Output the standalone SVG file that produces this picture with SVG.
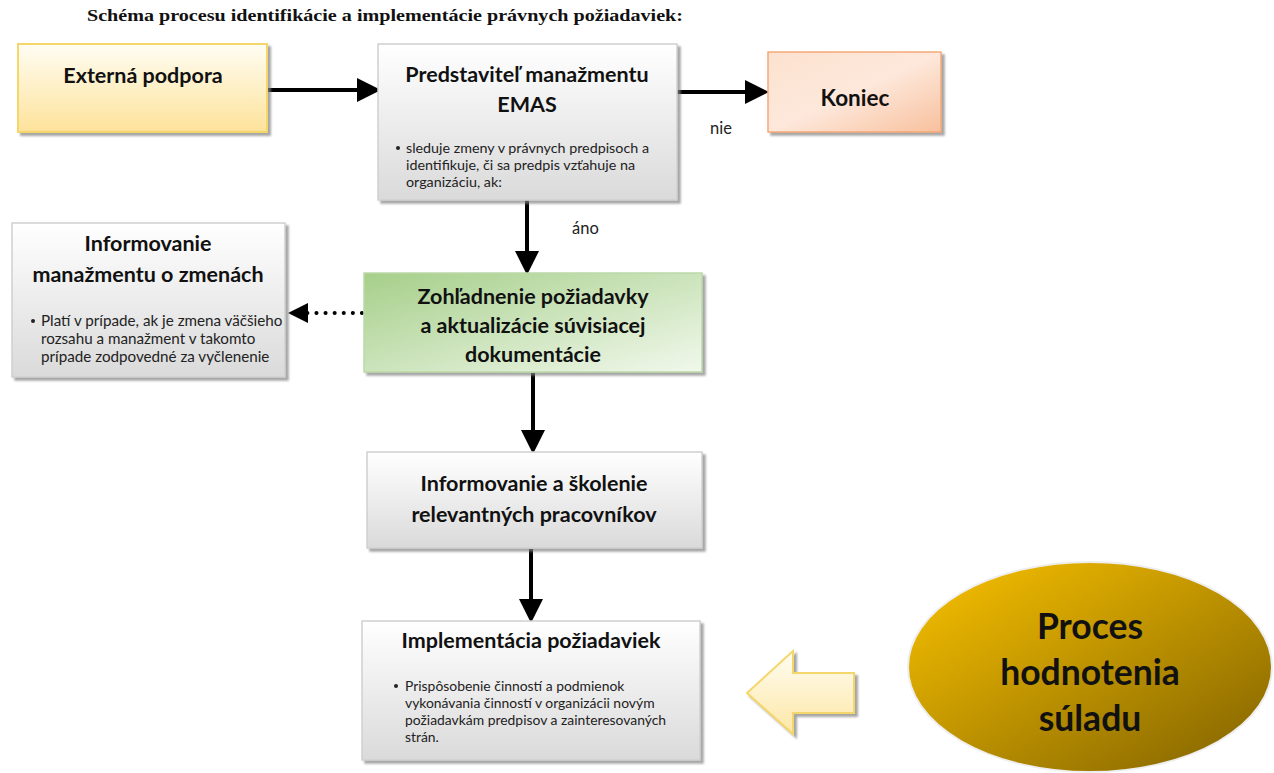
<svg xmlns="http://www.w3.org/2000/svg" width="1274" height="773" viewBox="0 0 1274 773">
<style>
.t{font-family:Lato,"Open Sans","Liberation Sans",sans-serif;font-weight:bold;fill:#111;text-anchor:middle}
.b{font-family:Lato,"Open Sans","Liberation Sans",sans-serif;fill:#222}
.lbl{font-family:Lato,"Open Sans","Liberation Sans",sans-serif;fill:#222;font-size:16.5px}
.gray{fill:url(#gGray);stroke:#d0d0d0;stroke-width:1.5}
.conn{stroke:#000;stroke-width:4;fill:none}
</style>
<defs>
<filter id="sh" x="-10%" y="-10%" width="130%" height="130%"><feDropShadow dx="3" dy="3" stdDeviation="1" flood-color="#808080" flood-opacity="0.7"/></filter>
<linearGradient id="gGray" x1="0" y1="0" x2="0" y2="1"><stop offset="0" stop-color="#ffffff"/><stop offset="1" stop-color="#dadada"/></linearGradient>
<linearGradient id="gYel" x1="0" y1="0" x2="0" y2="1"><stop offset="0" stop-color="#fffdf3"/><stop offset="1" stop-color="#fde29a"/></linearGradient>
<linearGradient id="gPeach" x1="0" y1="0" x2="1" y2="1"><stop offset="0" stop-color="#fce2cf"/><stop offset="0.5" stop-color="#fde8db"/><stop offset="1" stop-color="#f8c09d"/></linearGradient>
<linearGradient id="gGreen" x1="0" y1="0" x2="1" y2="1"><stop offset="0" stop-color="#a6cf8a"/><stop offset="1" stop-color="#f1f8ec"/></linearGradient>
<linearGradient id="gGold" x1="0" y1="0" x2="1" y2="1"><stop offset="0" stop-color="#fbc300"/><stop offset="1" stop-color="#7f6100"/></linearGradient>
<linearGradient id="gArr" x1="0" y1="0" x2="0" y2="1"><stop offset="0" stop-color="#fffdf2"/><stop offset="1" stop-color="#fde7a6"/></linearGradient>
<marker id="ah" markerWidth="6" markerHeight="6" refX="5" refY="3" orient="auto" markerUnits="strokeWidth"><path d="M0,0 L6,3 L0,6 z" fill="#000"/></marker>
<marker id="ahd" markerWidth="5" markerHeight="5" refX="4" refY="2.5" orient="auto" markerUnits="strokeWidth"><path d="M0,0 L5,2.5 L0,5 z" fill="#000"/></marker>
</defs>
<text x="87" y="21" font-family="'Liberation Serif','DejaVu Serif',serif" font-weight="bold" font-size="17" textLength="596" lengthAdjust="spacingAndGlyphs" fill="#111">Schéma procesu identifikácie a implementácie právnych požiadaviek:</text>

<g id="connectors">
<line class="conn" x1="267" y1="90" x2="377" y2="90" marker-end="url(#ah)"/>
<line class="conn" x1="677" y1="92" x2="765" y2="92" marker-end="url(#ah)"/>
<line class="conn" x1="527" y1="200" x2="527" y2="271" marker-end="url(#ah)"/>
<line x1="362" y1="313" x2="292" y2="313" stroke="#000" stroke-width="4" stroke-dasharray="0.1 9" stroke-linecap="round" marker-end="url(#ahd)"/>
<line class="conn" x1="533" y1="373" x2="533" y2="450" marker-end="url(#ah)"/>
<line class="conn" x1="531" y1="549" x2="531" y2="619" marker-end="url(#ah)"/>
<text class="lbl" x="710" y="134">nie</text>
<text class="lbl" x="572" y="234">áno</text>
</g>

<g id="externa">
<rect x="18" y="44" width="249" height="88" fill="url(#gYel)" stroke="#f5d66a" stroke-width="2" filter="url(#sh)"/>
<text class="t" x="143" y="83" font-size="21.5">Externá podpora</text>
</g>

<g id="predstavitel">
<rect class="gray" x="378" y="44" width="299" height="156" filter="url(#sh)"/>
<text class="t" x="527" y="82" font-size="21.5">Predstaviteľ manažmentu</text>
<text class="t" x="527" y="112" font-size="21.5">EMAS</text>
<circle cx="398" cy="148" r="2" fill="#222"/>
<text class="b" font-size="14.3"><tspan x="406" y="153">sleduje zmeny v právnych predpisoch a</tspan><tspan x="406" y="170">identifikuje, či sa  predpis vzťahuje na</tspan><tspan x="406" y="187">organizáciu, ak:</tspan></text>
</g>

<g id="koniec">
<rect x="768" y="52" width="173" height="80" fill="url(#gPeach)" stroke="#f5a97a" stroke-width="1.5" filter="url(#sh)"/>
<text class="t" x="855" y="106" font-size="22.5">Koniec</text>
</g>

<g id="informovanie-manazmentu">
<rect class="gray" x="12" y="223" width="273" height="154" filter="url(#sh)"/>
<text class="t" x="148" y="251" font-size="21.5">Informovanie</text>
<text class="t" x="148" y="282" font-size="21.5">manažmentu o zmenách</text>
<circle cx="33" cy="321" r="2" fill="#222"/>
<text class="b" font-size="15.2"><tspan x="41" y="326">Platí v prípade, ak je zmena väčšieho</tspan><tspan x="41" y="344">rozsahu a  manažment v takomto</tspan><tspan x="41" y="362">prípade zodpovedné za vyčlenenie</tspan></text>
</g>

<g id="zohladnenie">
<rect x="364" y="273" width="338" height="99" fill="url(#gGreen)" stroke="#bcd8a8" stroke-width="1.5" filter="url(#sh)"/>
<text class="t" x="533" y="304" font-size="21.5">Zohľadnenie požiadavky</text>
<text class="t" x="533" y="333" font-size="21.5">a aktualizácie súvisiacej</text>
<text class="t" x="533" y="362" font-size="21.5">dokumentácie</text>
</g>

<g id="skolenie">
<rect class="gray" x="367" y="452" width="335" height="96" filter="url(#sh)"/>
<text class="t" x="534" y="491" font-size="21.5">Informovanie a školenie</text>
<text class="t" x="534" y="522" font-size="21.5">relevantných pracovníkov</text>
</g>

<g id="implementacia">
<rect class="gray" x="362" y="621" width="338" height="139" filter="url(#sh)"/>
<text class="t" x="531" y="648" font-size="21.5">Implementácia požiadaviek</text>
<circle cx="396" cy="686" r="2" fill="#222"/>
<text class="b" font-size="13.9"><tspan x="405" y="691">Prispôsobenie činností a podmienok</tspan><tspan x="405" y="708">vykonávania činností v organizácii novým</tspan><tspan x="405" y="725">požiadavkám predpisov a zainteresovaných</tspan><tspan x="405" y="742">strán.</tspan></text>
</g>

<g id="block-arrow">
<path d="M747,693 L793,651 L793,673 L854,673 L854,713 L793,713 L793,734 Z" fill="url(#gArr)" stroke="#f5d66a" stroke-width="2" filter="url(#sh)"/>
</g>

<g id="proces">
<ellipse cx="1090" cy="667" rx="182" ry="105" fill="url(#gGold)" stroke="#eeeeee" stroke-width="2"/>
<text class="t" x="1090" y="639" font-size="35.5">Proces</text>
<text class="t" x="1090" y="685" font-size="35.5">hodnotenia</text>
<text class="t" x="1090" y="731" font-size="35.5">súladu</text>
</g>
</svg>
